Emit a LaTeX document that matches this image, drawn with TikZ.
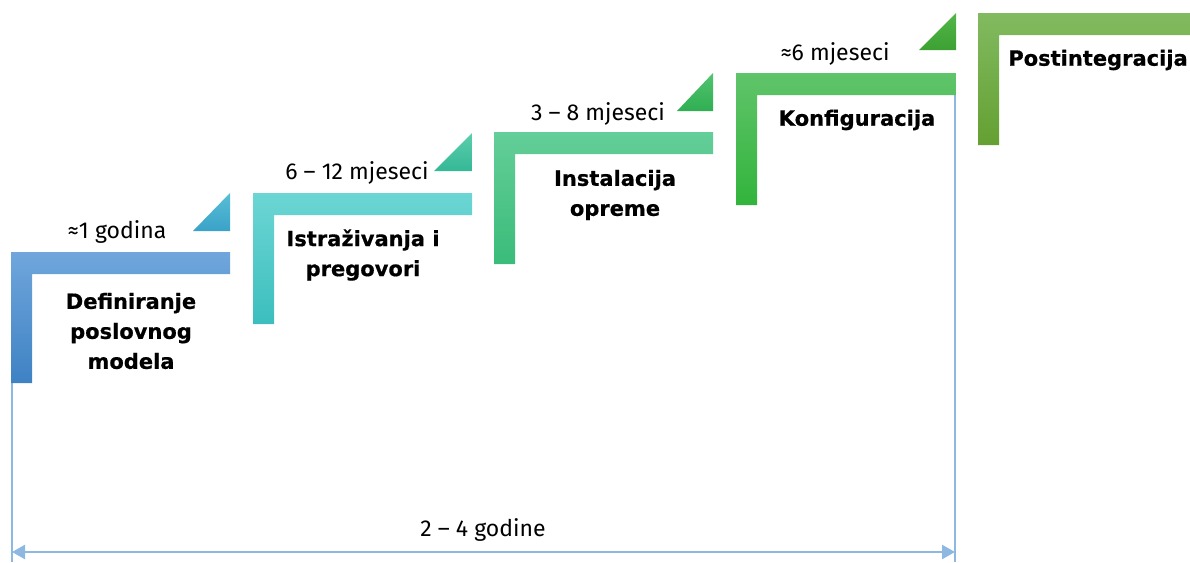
\documentclass[tikz,border=0pt]{standalone}
\usepackage{fontspec}
\setmainfont{Fira Sans}
\newfontfamily\titlefont[BoldFeatures={FakeBold=0.6}]{DejaVu Sans}
\usetikzlibrary{arrows.meta}
\tikzset{
  title/.style={font=\titlefont\fontsize{21}{30}\selectfont\bfseries, align=center, inner sep=0pt, text=black},
  dur/.style={font=\fontsize{23}{26}\selectfont, inner sep=0pt, text=black},
  dim/.style={draw=dimc, line width=2.4pt},
}
\definecolor{dimc}{RGB}{141,184,225}
\definecolor{s1t}{RGB}{112,166,220}\definecolor{s1b}{RGB}{62,130,196}
\definecolor{t1t}{RGB}{88,190,214}\definecolor{t1b}{RGB}{58,162,200}
\definecolor{s2t}{RGB}{108,214,212}\definecolor{s2b}{RGB}{60,190,190}
\definecolor{t2t}{RGB}{92,206,172}\definecolor{t2b}{RGB}{52,184,150}
\definecolor{s3t}{RGB}{100,206,152}\definecolor{s3b}{RGB}{58,188,122}
\definecolor{t3t}{RGB}{82,196,112}\definecolor{t3b}{RGB}{48,174,82}
\definecolor{s4t}{RGB}{96,196,106}\definecolor{s4b}{RGB}{50,180,60}
\definecolor{t4t}{RGB}{82,182,72}\definecolor{t4b}{RGB}{60,160,50}
\definecolor{s5t}{RGB}{130,186,96}\definecolor{s5b}{RGB}{100,160,50}
\newcommand{\stepL}[6]{% x0 y0 right-x bottom-y topcolor bottomcolor
  \shade[top color=#5, bottom color=#6]
    (#1,#2) -- (#3,#2) -- (#3,#2+22) -- (#1+21,#2+22) -- (#1+21,#4) -- (#1,#4) -- cycle;}
\newcommand{\tri}[6]{% x1 x2 ytop ybottom colors
  \shade[top color=#5, bottom color=#6] (#1,#4) -- (#2,#4) -- (#2,#3) -- cycle;}
\begin{document}
\begin{tikzpicture}[x=1pt,y=-1pt]
\useasboundingbox (0,0) rectangle (1190,562);
% dimension verticals (behind steps)
\coordinate (v1t) at (12,383);
\coordinate (v1b) at (12,562);
\coordinate (v2t) at (955,95);
\coordinate (v2b) at (955,562);
\draw[dim] (v1t) -- (v1b);
\draw[dim] (v2t) -- (v2b);
% steps
\stepL{11}{252}{230}{383}{s1t}{s1b}
\tri{193}{230}{193}{231}{t1t}{t1b}
\stepL{253}{193}{472}{324}{s2t}{s2b}
\tri{434}{472}{133}{171}{t2t}{t2b}
\stepL{494}{132}{713}{264}{s3t}{s3b}
\tri{677}{713}{73}{111}{t3t}{t3b}
\stepL{736}{73}{956}{205}{s4t}{s4b}
\tri{919}{956}{13}{50}{t4t}{t4b}
\stepL{978}{13}{1190}{145}{s5t}{s5b}
% titles
\node[title] (n1) at (131,331) {Definiranje\\poslovnog\\modela};
\node[title] (n2) at (363,255) {Istraživanja i\\pregovori};
\node[title] (n3) at (615,195) {Instalacija\\opreme};
\node[title] (n4) at (857,120) {Konfiguracija};
\node[title] (n5) at (1098,60) {Postintegracija};
% durations
\node[dur] (d1) at (117,232) {≈1 godina};
\node[dur] (d2) at (357,173) {6 – 12 mjeseci};
\node[dur] (d3) at (598,114) {3 – 8 mjeseci};
\node[dur] (d4) at (835,54) {≈6 mjeseci};
% total arrow
\coordinate (aL) at (12,552);
\coordinate (aR) at (955,552);
\draw[dim, {Triangle[length=13pt,width=14pt]}-{Triangle[length=13pt,width=14pt]}] (aL) -- (aR);
\node[dur] (tot) at (483,530) {2 – 4 godine};
\end{tikzpicture}
\end{document}
